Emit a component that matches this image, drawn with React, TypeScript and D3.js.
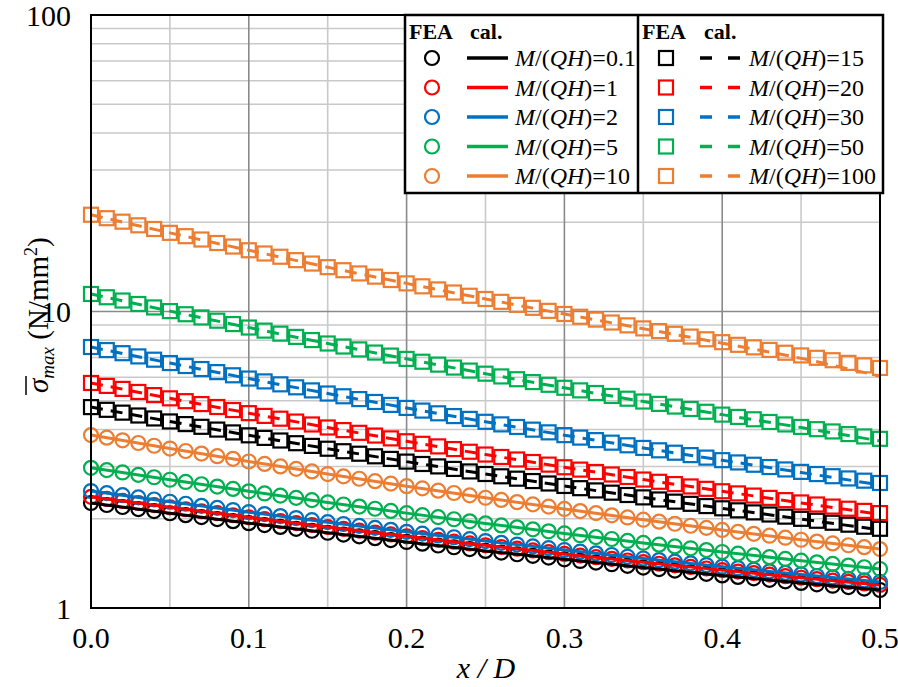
import React from "react";
import * as d3 from "d3";

// x / D positions of FEA points (0.00 .. 0.50 step 0.01)
const xFEA: number[] = [
  0.0, 0.01, 0.02, 0.03, 0.04, 0.05, 0.06, 0.07, 0.08, 0.09,
  0.1, 0.11, 0.12, 0.13, 0.14, 0.15, 0.16, 0.17, 0.18, 0.19,
  0.2, 0.21, 0.22, 0.23, 0.24, 0.25, 0.26, 0.27, 0.28, 0.29,
  0.3, 0.31, 0.32, 0.33, 0.34, 0.35, 0.36, 0.37, 0.38, 0.39,
  0.4, 0.41, 0.42, 0.43, 0.44, 0.45, 0.46, 0.47, 0.48, 0.49, 0.5,
];
// x / D positions of calculated curves
const xCal: number[] = [0, 0.05, 0.1, 0.15, 0.2, 0.25, 0.3, 0.35, 0.4, 0.45, 0.5];

const labels: string[] = ["0.1", "1", "2", "5", "10", "15", "20", "30", "50", "100"];
const colors: string[] = ["#000000", "#FF0000", "#0070C0", "#00B050", "#ED7D31", "#000000", "#FF0000", "#0070C0", "#00B050", "#ED7D31"];

// FEA values (N/mm2)
const fea01: number[] = [2.26, 2.225, 2.191, 2.156, 2.122, 2.087, 2.056, 2.025, 1.994, 1.963, 1.932, 1.904, 1.877, 1.849, 1.822, 1.794, 1.769, 1.744, 1.72, 1.695, 1.67, 1.648, 1.625, 1.603, 1.58, 1.558, 1.538, 1.518, 1.499, 1.479, 1.459, 1.441, 1.423, 1.405, 1.387, 1.369, 1.353, 1.337, 1.32, 1.304, 1.288, 1.273, 1.259, 1.244, 1.23, 1.215, 1.202, 1.189, 1.176, 1.163, 1.15];
const fea1: number[] = [2.37, 2.333, 2.296, 2.26, 2.223, 2.186, 2.153, 2.12, 2.088, 2.055, 2.022, 1.993, 1.964, 1.934, 1.905, 1.876, 1.85, 1.824, 1.797, 1.771, 1.745, 1.721, 1.698, 1.674, 1.651, 1.627, 1.606, 1.585, 1.564, 1.543, 1.522, 1.503, 1.484, 1.465, 1.446, 1.427, 1.41, 1.393, 1.376, 1.359, 1.342, 1.327, 1.311, 1.296, 1.28, 1.265, 1.251, 1.237, 1.224, 1.21, 1.196];
const fea2: number[] = [2.48, 2.44, 2.401, 2.361, 2.322, 2.282, 2.247, 2.211, 2.176, 2.14, 2.105, 2.074, 2.042, 2.011, 1.979, 1.948, 1.92, 1.892, 1.863, 1.835, 1.807, 1.782, 1.757, 1.732, 1.707, 1.682, 1.659, 1.637, 1.614, 1.592, 1.569, 1.549, 1.529, 1.509, 1.489, 1.469, 1.451, 1.433, 1.414, 1.396, 1.378, 1.362, 1.346, 1.329, 1.313, 1.297, 1.282, 1.268, 1.253, 1.239, 1.224];
const fea5: number[] = [2.97, 2.917, 2.865, 2.812, 2.76, 2.707, 2.661, 2.614, 2.568, 2.521, 2.475, 2.434, 2.393, 2.352, 2.311, 2.27, 2.234, 2.198, 2.161, 2.125, 2.089, 2.057, 2.025, 1.992, 1.96, 1.928, 1.899, 1.871, 1.842, 1.814, 1.785, 1.76, 1.734, 1.709, 1.683, 1.658, 1.635, 1.613, 1.59, 1.568, 1.545, 1.525, 1.504, 1.484, 1.464, 1.444, 1.426, 1.408, 1.39, 1.372, 1.354];
const fea10: number[] = [3.83, 3.754, 3.678, 3.602, 3.526, 3.45, 3.384, 3.318, 3.251, 3.185, 3.119, 3.061, 3.003, 2.946, 2.888, 2.83, 2.779, 2.728, 2.678, 2.627, 2.576, 2.532, 2.487, 2.443, 2.398, 2.354, 2.315, 2.276, 2.236, 2.197, 2.158, 2.123, 2.089, 2.054, 2.02, 1.985, 1.955, 1.924, 1.894, 1.863, 1.833, 1.806, 1.779, 1.753, 1.726, 1.699, 1.675, 1.651, 1.628, 1.604, 1.58];
const fea15: number[] = [4.76, 4.66, 4.559, 4.459, 4.358, 4.258, 4.171, 4.084, 3.997, 3.91, 3.823, 3.747, 3.672, 3.596, 3.521, 3.445, 3.379, 3.314, 3.248, 3.183, 3.117, 3.06, 3.003, 2.945, 2.888, 2.831, 2.781, 2.73, 2.68, 2.63, 2.58, 2.536, 2.492, 2.449, 2.405, 2.361, 2.323, 2.284, 2.246, 2.207, 2.169, 2.135, 2.101, 2.067, 2.033, 1.999, 1.969, 1.939, 1.91, 1.88, 1.85];
const fea20: number[] = [5.74, 5.611, 5.482, 5.353, 5.224, 5.095, 4.984, 4.873, 4.763, 4.652, 4.541, 4.445, 4.35, 4.254, 4.159, 4.063, 3.981, 3.898, 3.816, 3.733, 3.651, 3.579, 3.508, 3.436, 3.365, 3.293, 3.231, 3.169, 3.107, 3.045, 2.983, 2.929, 2.875, 2.82, 2.766, 2.712, 2.665, 2.618, 2.57, 2.523, 2.476, 2.435, 2.394, 2.352, 2.311, 2.27, 2.234, 2.198, 2.162, 2.126, 2.09];
const fea30: number[] = [7.59, 7.412, 7.234, 7.056, 6.878, 6.7, 6.548, 6.396, 6.245, 6.093, 5.941, 5.811, 5.68, 5.55, 5.419, 5.289, 5.177, 5.065, 4.953, 4.841, 4.729, 4.632, 4.536, 4.439, 4.343, 4.246, 4.162, 4.079, 3.995, 3.912, 3.828, 3.756, 3.683, 3.611, 3.538, 3.466, 3.403, 3.34, 3.278, 3.215, 3.152, 3.097, 3.042, 2.988, 2.933, 2.878, 2.83, 2.783, 2.735, 2.688, 2.64];
const fea50: number[] = [11.46, 11.17, 10.89, 10.6, 10.32, 10.03, 9.79, 9.55, 9.31, 9.07, 8.83, 8.62, 8.42, 8.21, 8.01, 7.8, 7.62, 7.45, 7.27, 7.1, 6.92, 6.77, 6.62, 6.47, 6.32, 6.17, 6.04, 5.91, 5.78, 5.66, 5.53, 5.42, 5.31, 5.19, 5.08, 4.97, 4.88, 4.78, 4.69, 4.59, 4.49, 4.41, 4.33, 4.24, 4.16, 4.08, 4.01, 3.94, 3.86, 3.79, 3.72];
const fea100: number[] = [21.2, 20.64, 20.09, 19.53, 18.98, 18.42, 17.95, 17.49, 17.02, 16.56, 16.09, 15.69, 15.3, 14.9, 14.51, 14.11, 13.78, 13.44, 13.11, 12.77, 12.44, 12.16, 11.87, 11.59, 11.3, 11.02, 10.78, 10.53, 10.29, 10.05, 9.81, 9.6, 9.39, 9.18, 8.98, 8.77, 8.59, 8.41, 8.23, 8.06, 7.88, 7.72, 7.57, 7.42, 7.26, 7.11, 6.98, 6.85, 6.71, 6.58, 6.45];

// calculated values (N/mm2)
const cal01: number[] = [2.26, 2.087, 1.932, 1.794, 1.67, 1.558, 1.459, 1.369, 1.288, 1.215, 1.15];
const cal1: number[] = [2.37, 2.186, 2.022, 1.876, 1.745, 1.627, 1.522, 1.427, 1.342, 1.265, 1.196];
const cal2: number[] = [2.48, 2.282, 2.105, 1.948, 1.807, 1.682, 1.569, 1.469, 1.378, 1.297, 1.224];
const cal5: number[] = [2.97, 2.707, 2.475, 2.27, 2.089, 1.928, 1.785, 1.658, 1.545, 1.444, 1.354];
const cal10: number[] = [3.83, 3.45, 3.119, 2.83, 2.576, 2.354, 2.158, 1.985, 1.833, 1.699, 1.58];
const cal15: number[] = [4.76, 4.258, 3.823, 3.445, 3.117, 2.831, 2.58, 2.361, 2.169, 1.995, 1.835];
const cal20: number[] = [5.74, 5.095, 4.541, 4.063, 3.651, 3.293, 2.983, 2.712, 2.476, 2.262, 2.07];
const cal30: number[] = [7.59, 6.7, 5.941, 5.289, 4.729, 4.246, 3.828, 3.466, 3.15, 2.865, 2.6];
const cal50: number[] = [11.46, 10.03, 8.826, 7.8, 6.922, 6.171, 5.527, 4.972, 4.49, 4.06, 3.66];
const cal100: number[] = [21.2, 18.42, 16.09, 14.11, 12.44, 11.02, 9.805, 8.75, 7.82, 6.95, 6.05];

const feaSeries: number[][] = [fea01, fea1, fea2, fea5, fea10, fea15, fea20, fea30, fea50, fea100];
const calSeries: number[][] = [cal01, cal1, cal2, cal5, cal10, cal15, cal20, cal30, cal50, cal100];

const xTicks: number[] = [0, 0.1, 0.2, 0.3, 0.4, 0.5];
const xMinorTicks: number[] = [0.05, 0.15, 0.25, 0.35, 0.45];
const yTicks: number[] = [1, 10, 100];
const yMinorTicks: number[] = [2, 3, 4, 5, 6, 7, 8, 9, 20, 30, 40, 50, 60, 70, 80, 90];

const W = 898;
const H = 687;
const left = 91;
const right = 880;
const top = 15;
const bottom = 608;

const FONT = "Liberation Serif, Times New Roman, serif";

export default function App() {
  const x = d3.scaleLinear().domain([0, 0.5]).range([left, right]);
  const y = d3.scaleLog().domain([1, 100]).range([bottom, top]);

  const line = d3
    .line<[number, number]>()
    .x((d) => x(d[0]))
    .y((d) => y(d[1]))
    .curve(d3.curveMonotoneX);

  const minorC = "#c9c9c9";
  const majorC = "#8a8a8a";

  const legLeftX = 405;
  const legDivX = 638;
  const legRightX = 883;
  const legTop = 15;
  const legBottom = 193;
  const rowY = (i: number) => 58 + i * 29.5;

  const labelText = (lab: string, tx: number, ty: number) => (
    <text x={tx} y={ty} fontFamily={FONT} fontSize={24} dominantBaseline="central">
      <tspan fontStyle="italic">M</tspan>
      <tspan>/(</tspan>
      <tspan fontStyle="italic">QH</tspan>
      <tspan>)={lab}</tspan>
    </text>
  );

  return (
    <svg width={W} height={H} style={{ position: "absolute", left: 0, top: 0, background: "#fff" }}>
      <rect x={0} y={0} width={W} height={H} fill="#fff" />
      {/* grid */}
      {yMinorTicks.map((v) => (
        <line key={"ym" + v} x1={left} x2={right} y1={y(v)} y2={y(v)} stroke={minorC} strokeWidth={1.6} />
      ))}
      {xMinorTicks.map((v) => (
        <line key={"xm" + v} x1={x(v)} x2={x(v)} y1={top} y2={bottom} stroke={minorC} strokeWidth={1.6} />
      ))}
      {yTicks.slice(1, -1).map((v) => (
        <line key={"yM" + v} x1={left} x2={right} y1={y(v)} y2={y(v)} stroke={majorC} strokeWidth={1.6} />
      ))}
      {xTicks.slice(1, -1).map((v) => (
        <line key={"xM" + v} x1={x(v)} x2={x(v)} y1={top} y2={bottom} stroke={majorC} strokeWidth={1.6} />
      ))}

      {/* FEA markers */}
      {feaSeries.map((s, si) =>
        s.map((v, i) =>
          si < 5 ? (
            <circle key={`c${si}-${i}`} cx={x(xFEA[i])} cy={y(v)} r={7} fill="none" stroke={colors[si]} strokeWidth={2.2} />
          ) : (
            <rect key={`r${si}-${i}`} x={x(xFEA[i]) - 7} y={y(v) - 7} width={14} height={14} fill="none" stroke={colors[si]} strokeWidth={2.2} />
          )
        )
      )}

      {/* calculated lines */}
      {calSeries.map((s, si) => (
        <path
          key={"l" + si}
          d={line(s.map((v, i) => [xCal[i], v] as [number, number])) || ""}
          fill="none"
          stroke={colors[si]}
          strokeWidth={3}
          strokeDasharray={si < 5 ? undefined : "12,8"}
        />
      ))}

      {/* frame */}
      <rect x={left} y={top} width={right - left} height={bottom - top} fill="none" stroke="#000" strokeWidth={2} />

      {/* tick labels */}
      {yTicks.map((v) => (
        <text key={"yt" + v} x={71} y={y(v)} textAnchor="end" dominantBaseline="central" fontFamily={FONT} fontSize={30}>
          {v}
        </text>
      ))}
      {xTicks.map((v) => (
        <text key={"xt" + v} x={x(v)} y={637} textAnchor="middle" dominantBaseline="central" fontFamily={FONT} fontSize={30}>
          {v.toFixed(1)}
        </text>
      ))}

      {/* axis titles */}
      <text x={486} y={667} textAnchor="middle" dominantBaseline="central" fontFamily={FONT} fontSize={30} fontStyle="italic">
        x / D
      </text>
      <g transform="translate(48,311) rotate(-90)">
        <text x={-82} y={0} fontFamily={FONT} fontSize={29}>
          <tspan fontStyle="italic">σ</tspan>
          <tspan fontStyle="italic" fontSize={19} dy={6}>max</tspan>
          <tspan dy={-6}> (N/mm</tspan>
          <tspan fontSize={18} dy={-11}>2</tspan>
          <tspan dy={11}>)</tspan>
        </text>
        <line x1={-84} x2={-65} y1={-22} y2={-22} stroke="#000" strokeWidth={1.5} />
      </g>

      {/* legend */}
      <rect x={legLeftX} y={legTop} width={legRightX - legLeftX} height={legBottom - legTop} fill="#fff" stroke="#000" strokeWidth={2.5} />
      <line x1={legDivX} x2={legDivX} y1={legTop} y2={legBottom} stroke="#000" strokeWidth={2.5} />
      <text x={409} y={31} dominantBaseline="central" fontFamily={FONT} fontSize={22} fontWeight="bold">FEA</text>
      <text x={470} y={31} dominantBaseline="central" fontFamily={FONT} fontSize={22} fontWeight="bold">cal.</text>
      <text x={642} y={31} dominantBaseline="central" fontFamily={FONT} fontSize={22} fontWeight="bold">FEA</text>
      <text x={704} y={31} dominantBaseline="central" fontFamily={FONT} fontSize={22} fontWeight="bold">cal.</text>
      {labels.map((lab, i) => {
        const col = i < 5 ? 0 : 1;
        const r = i % 5;
        const cy = rowY(r);
        if (col === 0) {
          return (
            <g key={"lg" + i}>
              <circle cx={432} cy={cy} r={7} fill="none" stroke={colors[i]} strokeWidth={2.2} />
              <line x1={467} x2={508} y1={cy} y2={cy} stroke={colors[i]} strokeWidth={3.5} />
              {labelText(lab, 515, cy)}
            </g>
          );
        }
        return (
          <g key={"lg" + i}>
            <rect x={666 - 7} y={cy - 7} width={14} height={14} fill="none" stroke={colors[i]} strokeWidth={2.2} />
            <line x1={700} x2={740} y1={cy} y2={cy} stroke={colors[i]} strokeWidth={3.5} strokeDasharray="12,16" />
            {labelText(lab, 749, cy)}
          </g>
        );
      })}
    </svg>
  );
}
